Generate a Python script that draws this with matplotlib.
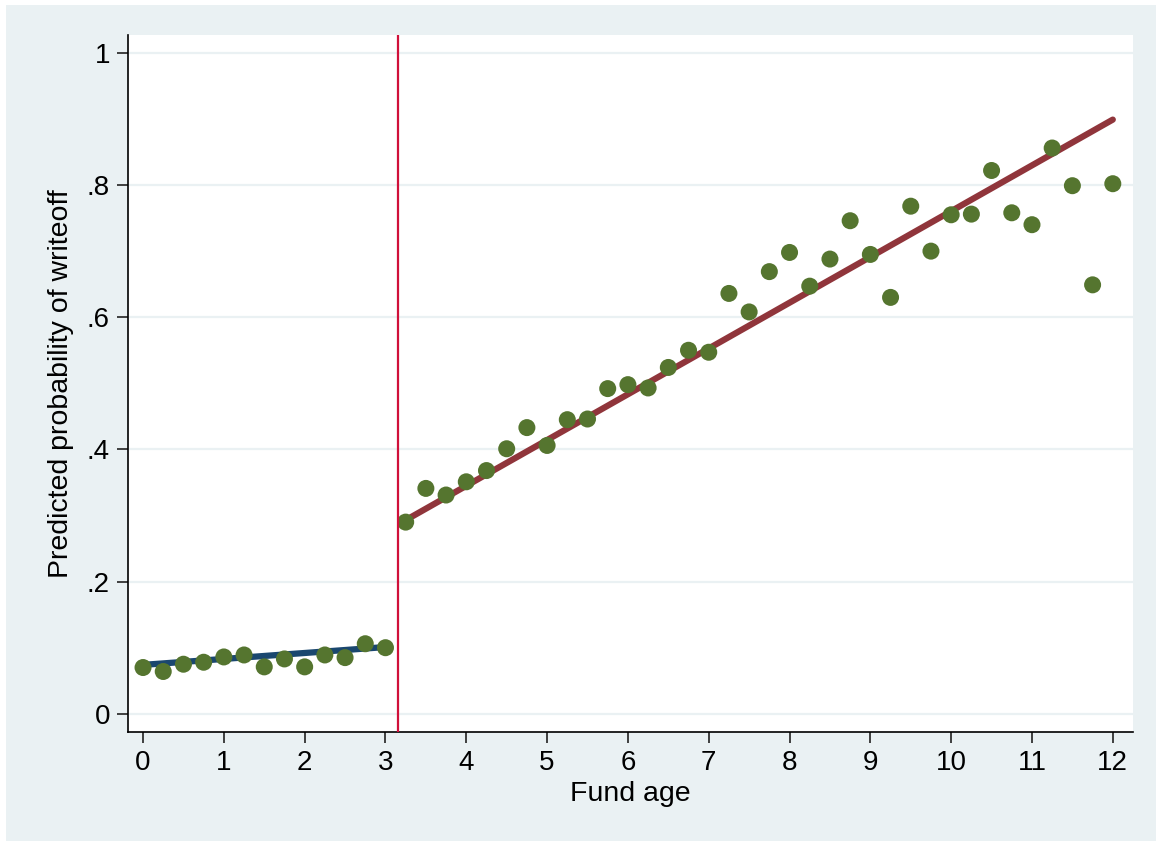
import matplotlib.pyplot as plt
from matplotlib.patches import Rectangle

# binned fund age and predicted probability of writeoff
age_pre = [0, 0.25, 0.5, 0.75, 1.0, 1.25, 1.5, 1.75, 2.0, 2.25, 2.5, 2.75, 3.0]
prob_pre = [0.070, 0.064, 0.075, 0.078, 0.086, 0.089, 0.071, 0.083, 0.071,
            0.089, 0.085, 0.106, 0.100]

age_post = [3.25, 3.5, 3.75, 4.0, 4.25, 4.5, 4.75, 5.0, 5.25, 5.5, 5.75, 6.0,
            6.25, 6.5, 6.75, 7.0, 7.25, 7.5, 7.75, 8.0, 8.25, 8.5, 8.75, 9.0,
            9.25, 9.5, 9.75, 10.0, 10.25, 10.5, 10.75, 11.0, 11.25, 11.5,
            11.75, 12.0]
prob_post = [0.290, 0.341, 0.331, 0.351, 0.368, 0.401, 0.433, 0.406, 0.445,
             0.446, 0.492, 0.498, 0.493, 0.524, 0.550, 0.547, 0.636, 0.608,
             0.669, 0.698, 0.647, 0.688, 0.746, 0.695, 0.630, 0.768, 0.700,
             0.755, 0.756, 0.822, 0.758, 0.740, 0.856, 0.799, 0.649, 0.802]

# linear fits on each side of the cutoff
fit_pre_x = [0, 3]
fit_pre_y = [0.074, 0.101]
fit_post_x = [3.25, 12]
fit_post_y = [0.293, 0.899]

cutoff = 3.155

xticks = list(range(13))
yticks = [0, 0.2, 0.4, 0.6, 0.8, 1.0]
ytick_labels = ['0', '.2', '.4', '.6', '.8', '1']

bg = '#EAF1F3'
plt.rcParams['font.family'] = ['Liberation Sans', 'DejaVu Sans']

fig = plt.figure(figsize=(11.56, 8.41), dpi=100, facecolor='white')
fig.patches.append(Rectangle((6 / 1156, 0), 1 - 6 / 1156, 1 - 5 / 841,
                             transform=fig.transFigure, facecolor=bg,
                             edgecolor='none', zorder=-10))

ax = fig.add_axes([128 / 1156, (841 - 732.3) / 841, 1005 / 1156, 697.3 / 841])
ax.set_facecolor('white')

for y in yticks:
    ax.axhline(y, color=bg, lw=1.6, zorder=0)

ax.plot(fit_pre_x, fit_pre_y, color='#1A476F', lw=4.5, solid_capstyle='round', zorder=2)
ax.plot(fit_post_x, fit_post_y, color='#90353B', lw=4.5, solid_capstyle='round', zorder=2)
ax.scatter(age_pre, prob_pre, s=150, color='#55752F', edgecolors='none', zorder=3)
ax.scatter(age_post, prob_post, s=150, color='#55752F', edgecolors='none', zorder=3)
ax.axvline(cutoff, color='#D0103A', lw=1.6, zorder=4)

ax.set_xlim(-0.186, 12.25)
ax.set_ylim(-0.028, 1.027)
ax.set_xticks(xticks)
ax.set_yticks(yticks)
ax.set_yticklabels(ytick_labels)

for side in ['top', 'right']:
    ax.spines[side].set_visible(False)
for side in ['left', 'bottom']:
    ax.spines[side].set_color('black')
    ax.spines[side].set_linewidth(1.2)

ax.tick_params(axis='both', direction='out', length=8, width=1.2,
               labelsize=20, pad=5, color='#222222')

ax.set_xlabel('Fund age', fontsize=20.5, labelpad=3)
ax.set_ylabel('Predicted probability of writeoff', fontsize=20.5, labelpad=9)

fig.savefig('out.png', dpi=100, facecolor=fig.get_facecolor())
